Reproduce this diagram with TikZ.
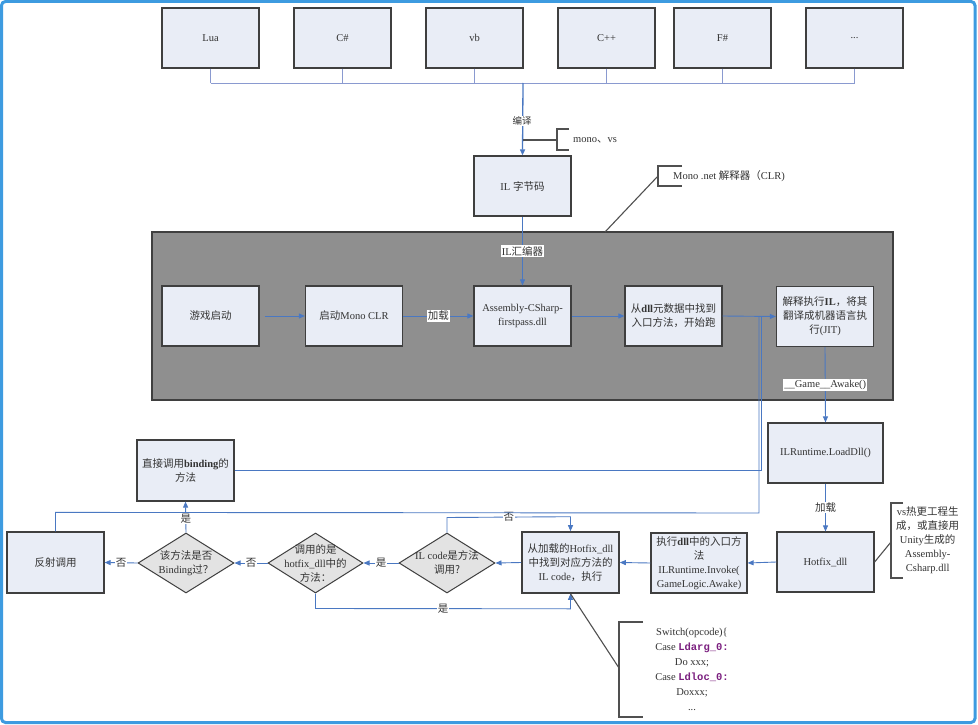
\documentclass[tikz,border=0pt]{standalone}
\usepackage{fontspec}
\setmainfont{Liberation Serif}
\setmonofont{Liberation Mono}
\newfontfamily\cjk{Noto Sans CJK SC}[Scale=1.0]
\newcommand\zh[1]{{\cjk #1}}
\newcommand\fs{\fontsize{10.5}{14}\selectfont}
\usetikzlibrary{shapes.geometric,arrows.meta,calc}
\definecolor{boxfill}{HTML}{E9EDF6}
\definecolor{diafill}{HTML}{E3E3E3}
\definecolor{boxline}{HTML}{3F3F3F}
\definecolor{flow}{HTML}{4A78C2}
\definecolor{buscol}{HTML}{8A9AD0}
\definecolor{notecol}{HTML}{505050}
\definecolor{txt}{HTML}{333333}
\definecolor{grayarea}{HTML}{8F8F8F}
\definecolor{frame}{HTML}{3D9BE0}
\definecolor{purp}{HTML}{7B1F7F}
\tikzset{
 box/.style={draw=boxline, fill=boxfill, line width=1.2pt, minimum width=97pt, minimum height=60pt, inner sep=0pt, align=center, text=txt, font=\fs},
 dia/.style={diamond, draw=boxline, fill=diafill, line width=1pt, minimum width=96pt, minimum height=60pt, inner sep=0pt},
 dtxt/.style={align=center, text=txt, font=\fs, inner sep=0pt},
 arr/.style={draw=flow, line width=0.9pt, -{Triangle[length=6pt,width=5pt]}},
 flowline/.style={draw=flow, line width=0.9pt},
 bus/.style={draw=buscol, line width=0.9pt},
 noteline/.style={draw=notecol, line width=1.1pt},
 lbl/.style={fill=white, inner sep=1pt, text=txt, font=\fs},
 plain/.style={text=txt, font=\fs, inner sep=0pt},
}
\begin{document}
\begin{tikzpicture}[x=1pt,y=-1pt]
\useasboundingbox (0,0) rectangle (978,725);
\fill[white] (0,0) rectangle (978,725);
\draw[frame, line width=3pt, rounded corners=4pt] (1.5,1.5) rectangle (975,722.5);

% top language boxes
\node[box] (lua) at (210.5,38) {Lua};
\node[box] (cs) at (342.5,38) {C\#};
\node[box] (vb) at (474.5,38) {vb};
\node[box] (cpp) at (606.5,38) {C++};
\node[box] (fs) at (722.5,38) {F\#};
\node[box] (etc) at (854.5,38) {...};
\coordinate (bus) at (523,83);
\foreach \n in {lua,cs,vb,cpp,fs,etc} \draw[bus] (\n.south) -- (\n.south |- bus);
\draw[bus] (lua.south |- bus) -- (etc.south |- bus);

% IL box
\node[box] (il) at (522.5,186) {IL \zh{字节码}};
\draw[arr, line width=1.3pt] (bus) -- (il.north);
\node[plain, font=\fontsize{9.5}{10}\selectfont, fill=white, inner sep=1pt] (bianyi) at (522,121) {\zh{编译}};

% mono, vs note
\coordinate (mv) at (523,140);
\coordinate (mvb) at (557,140);
\draw[noteline] (mv) -- (mvb);
\draw[noteline] (569,129) -- (557,129) -- (557,150) -- (569,150);
\node[plain, anchor=west] (monovs) at (573,140) {mono\zh{、}vs};

% gray area
\node[draw=boxline, fill=grayarea, line width=1.1pt, minimum width=741pt, minimum height=168pt, inner sep=0pt] (clr) at (522.5,316) {};

% Mono .net note
\draw[noteline] (682,166) -- (658,166) -- (658,186) -- (682,186);
\coordinate (clrb) at (658,176);
\coordinate (clrt) at (605,232);
\draw[noteline] (clrb) -- (clrt);
\node[plain, anchor=west] (clrnote) at (673,176) {Mono .net \zh{解释器（}CLR)};

% inner boxes
\node[box] (game) at (210.5,316) {\zh{游戏启动}};
\node[box] (mono) at (354,316) {\zh{启动}Mono CLR};
\node[box] (asm) at (522.5,316) {Assembly-CSharp-\\firstpass.dll};
\node[box] (dll) at (673.5,316) {\zh{从}\textbf{dll}\zh{元数据中找到}\\\zh{入口方法，开始跑}};
\node[box] (jit) at (825,316.5) {\zh{解释执行}\textbf{IL}\zh{，将其}\\\zh{翻译成机器语言执}\\\zh{行}(JIT)};

\draw[arr] (il.south) -- node[lbl] {IL\zh{汇编器}} (asm.north);
\draw[arr] ($(game.east)+(5,0)$) -- (mono.west);
\draw[arr] (mono.east) -- node[lbl] {\zh{加载}} (asm.west);
\draw[arr] (asm.east) -- (dll.west);
\draw[arr] (dll.east) -- (jit.west);

% right column
\node[box, minimum width=115pt] (load) at (825.5,453) {ILRuntime.LoadDll()};
\node[box] (hot) at (825.5,562) {Hotfix\_dll};
\draw[arr] (jit.south) -- node[lbl] {\_\_Game\_\_Awake()} (load.north);
\draw[arr] (load.south) -- node[lbl] {\zh{加载}} (hot.north);

% vs note
\draw[noteline] (903,503) -- (891,503) -- (891,578) -- (903,578);
\coordinate (vsb) at (891,542);
\draw[noteline] (hot.east) -- (vsb);
\node[plain, align=center, anchor=west] (vsnote) at (896,540.5) {vs\zh{热更工程生}\\\zh{成，或直接用}\\Unity\zh{生成的}\\Assembly-\\Csharp.dll};

% bottom row
\node[box, minimum width=96pt] (inv) at (699,563) {\zh{执行}\textbf{dll}\zh{中的入口方}\\\zh{法}\\ILRuntime.Invoke(\\GameLogic.Awake)};
\node[box, line width=1.6pt, minimum height=61pt] (find) at (570.5,562.5) {\zh{从加载的}Hotfix\_dll\\\zh{中找到对应方法的}\\IL code\zh{，执行}};
\node[dia] (ild) at (447,563) {};
\node[dtxt] at (ild) {IL code\zh{是方法}\\\zh{调用?}};
\node[dia, minimum width=95pt] (hfd) at (315.5,563) {};
\node[dtxt] at (hfd) {\zh{调用的是}\\hotfix\_dll\zh{中的}\\\zh{方法：}};
\node[dia] (bdd) at (186,563) {};
\node[dtxt] at (bdd) {\zh{该方法是否}\\Binding\zh{过？}};
\node[box, minimum height=61pt] (bind) at (185.5,470.5) {\zh{直接调用}\textbf{binding}\zh{的}\\\zh{方法}};
\node[box, minimum height=61pt] (refl) at (55.5,562.5) {\zh{反射调用}};

\draw[arr] (hot.west) -- (inv.east);
\draw[arr] (inv.west) -- (find.east);
\draw[arr] (find.west) -- (ild.east);
\draw[arr] (ild.west) -- node[lbl] {\zh{是}} (hfd.east);
\draw[arr] (hfd.west) -- node[lbl] {\zh{否}} (bdd.east);
\draw[arr] (bdd.west) -- node[lbl] {\zh{否}} (refl.east);
\draw[arr] (bdd.north) -- node[lbl, pos=0.45] {\zh{是}} (bind.south);

\draw[arr] (ild.north) -- ($(ild.north)+(0,-15)$) -- node[lbl, pos=0.5] {\zh{否}} ($(find.north)+(0,-14.5)$) -- (find.north);
\draw[arr] (hfd.south) -- ($(hfd.south)+(0,15)$) -- node[lbl, pos=0.5] {\zh{是}} ($(find.south)+(0,15)$) -- (find.south);

% return lines to JIT
\coordinate (j1) at (759,316);
\coordinate (j2) at (761,316);
\draw[flowline] (refl.north) -- ($(refl.north)+(0,-19)$) -- (759,513) -- (j1);
\draw[flowline] (bind.east) -- (761,470.5) -- (j2);

% code note
\draw[noteline] (643,622) -- (619,622) -- (619,717) -- (643,717);
\coordinate (cb) at (619,668);
\draw[noteline] (cb) -- (find.south);
\node[plain, align=center, font=\fontsize{10.5}{15}\selectfont] (code) at (692,669) {Switch(opcode)\{\\Case {\ttfamily\bfseries\color{purp}Ldarg\_0:}\\Do xxx;\\Case {\ttfamily\bfseries\color{purp}Ldloc\_0:}\\Doxxx;\\...};
\end{tikzpicture}
\end{document}
